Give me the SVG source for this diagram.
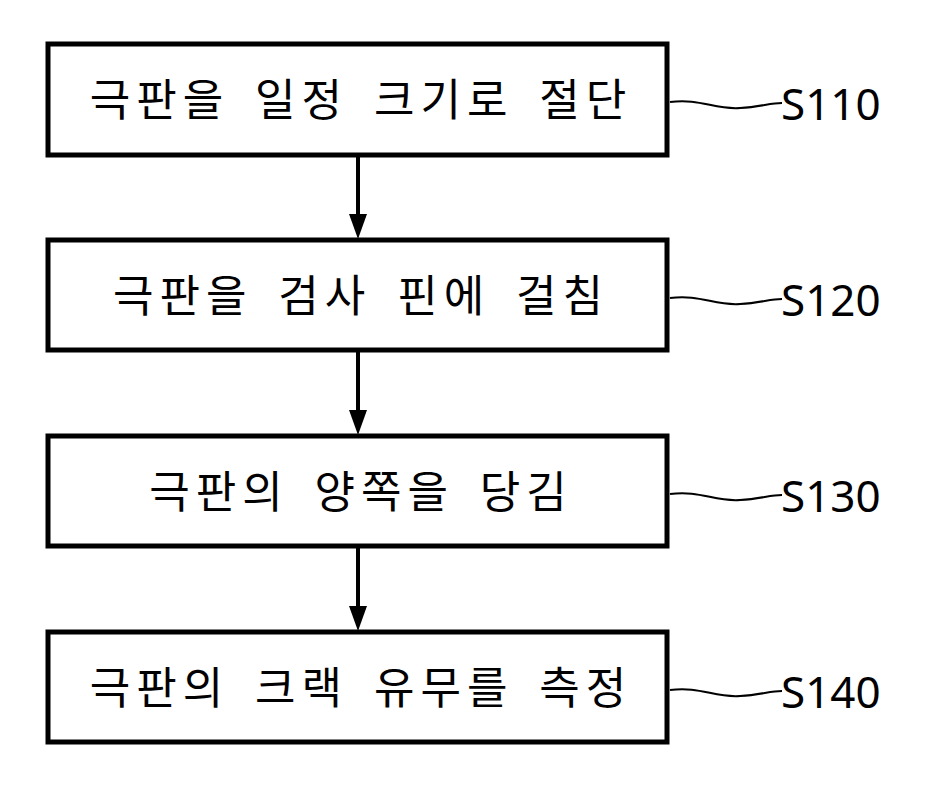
<svg xmlns="http://www.w3.org/2000/svg" width="939" height="785" viewBox="0 0 939 785">
<style>
.box{fill:#fff;stroke:#000;stroke-width:5}
.t{font-family:"Noto Sans CJK KR",sans-serif;font-size:44px;letter-spacing:6px;word-spacing:10px;text-anchor:middle;fill:#000}
.l{font-family:"Noto Sans","Open Sans",sans-serif;font-size:44px;fill:#000}
.w{fill:none;stroke:#000;stroke-width:2}
.a{stroke:#000;stroke-width:4}
</style>
<g id="connectors">
<line class="a" x1="358" y1="156" x2="358" y2="214"/><path d="M349,214 L367,214 L358,239 Z"/>
<line class="a" x1="358" y1="352" x2="358" y2="410"/><path d="M349,410 L367,410 L358,435 Z"/>
<line class="a" x1="358" y1="548" x2="358" y2="606"/><path d="M349,606 L367,606 L358,631 Z"/>
</g>
<g id="n1"><rect class="box" x="48" y="44" width="619" height="111"/><text class="t" x="361" y="116">극판을 일정 크기로 절단</text>
<path class="w" d="M670,102 C700,98 715,110 740,108 C760,107 770,103 782,103"/><text class="l" x="781" y="120">S110</text></g>
<g id="n2"><rect class="box" x="48" y="240" width="619" height="110"/><text class="t" x="361" y="312">극판을 검사 핀에 걸침</text>
<path class="w" d="M670,298 C700,294 715,306 740,304 C760,303 770,299 782,299"/><text class="l" x="781" y="316">S120</text></g>
<g id="n3"><rect class="box" x="48" y="436" width="619" height="110"/><text class="t" x="361" y="508">극판의 양쪽을 당김</text>
<path class="w" d="M670,494 C700,490 715,502 740,500 C760,499 770,495 782,495"/><text class="l" x="781" y="512">S130</text></g>
<g id="n4"><rect class="box" x="48" y="632" width="619" height="110"/><text class="t" x="361" y="704">극판의 크랙 유무를 측정</text>
<path class="w" d="M670,690 C700,686 715,698 740,696 C760,695 770,691 782,691"/><text class="l" x="781" y="708">S140</text></g>
</svg>
